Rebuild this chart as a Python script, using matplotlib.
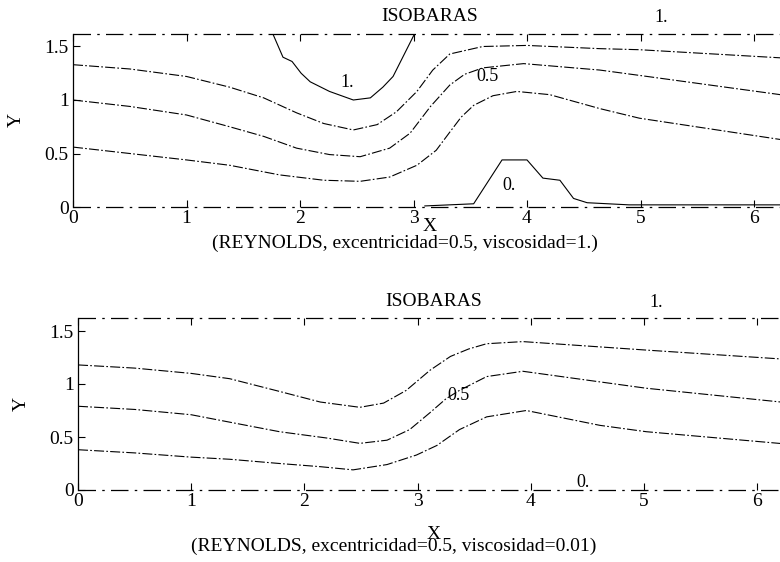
#!/usr/bin/env python3
"""Isobaras: two contour panels (Reynolds, excentricidad=0.5)."""
import matplotlib
matplotlib.use("Agg")
import matplotlib.pyplot as plt

# ---- panel 1: viscosidad = 1. ----
top_x = [0.0, 0.5, 1.0, 1.38, 1.68, 1.97, 2.21, 2.47, 2.68, 2.85, 3.03, 3.17, 3.32,
         3.61, 4.0, 4.64, 4.99, 6.30]
top_y = [1.33, 1.29, 1.22, 1.12, 1.02, 0.88, 0.78, 0.72, 0.77, 0.89, 1.08, 1.28, 1.43,
         1.50, 1.51, 1.48, 1.47, 1.39]
mid_x = [0.0, 0.5, 1.0, 1.38, 1.68, 1.97, 2.26, 2.53, 2.79, 2.97, 3.15, 3.32, 3.45,
         3.61, 3.97, 4.64, 4.99, 6.30]
mid_y = [1.00, 0.94, 0.86, 0.75, 0.66, 0.55, 0.49, 0.47, 0.55, 0.69, 0.94, 1.14, 1.24,
         1.30, 1.34, 1.28, 1.23, 1.04]
low_x = [0.0, 0.5, 1.0, 1.38, 1.82, 2.21, 2.53, 2.79, 3.03, 3.20, 3.32, 3.42, 3.53,
         3.70, 3.91, 4.20, 4.64, 4.99, 6.30]
low_y = [0.56, 0.50, 0.44, 0.39, 0.30, 0.25, 0.24, 0.28, 0.39, 0.53, 0.70, 0.84, 0.95,
         1.04, 1.08, 1.05, 0.92, 0.83, 0.62]
one_x = [1.76, 1.85, 1.93, 2.01, 2.09, 2.26, 2.47, 2.62, 2.73, 2.82, 3.01]
one_y = [1.62, 1.40, 1.36, 1.25, 1.17, 1.08, 1.00, 1.02, 1.12, 1.22, 1.62]
zero_x = [3.10, 3.53, 3.78, 4.00, 4.14, 4.29, 4.41, 4.53, 4.90, 6.30]
zero_y = [0.01, 0.03, 0.44, 0.44, 0.27, 0.25, 0.08, 0.04, 0.02, 0.02]

# ---- panel 2: viscosidad = 0.01 ----
top2_x = [0.0, 0.5, 1.0, 1.34, 1.78, 2.14, 2.49, 2.70, 2.90, 3.11, 3.29, 3.45, 3.61,
          3.93, 4.61, 5.02, 6.30]
top2_y = [1.18, 1.15, 1.10, 1.05, 0.93, 0.83, 0.78, 0.82, 0.94, 1.13, 1.26, 1.33, 1.38,
          1.40, 1.35, 1.32, 1.23]
mid2_x = [0.0, 0.5, 1.0, 1.34, 1.78, 2.20, 2.49, 2.73, 2.93, 3.11, 3.25, 3.37, 3.61,
          3.93, 4.61, 5.02, 6.30]
mid2_y = [0.79, 0.76, 0.71, 0.64, 0.55, 0.49, 0.44, 0.47, 0.57, 0.73, 0.86, 0.94, 1.07,
          1.12, 1.02, 0.96, 0.82]
low2_x = [0.0, 0.5, 1.0, 1.34, 1.78, 2.14, 2.43, 2.73, 2.99, 3.17, 3.37, 3.61, 3.96,
          4.61, 5.02, 6.30]
low2_y = [0.38, 0.35, 0.31, 0.29, 0.25, 0.22, 0.19, 0.24, 0.33, 0.42, 0.57, 0.69, 0.75,
          0.61, 0.55, 0.43]

YTOP = 1.62
XMAX = 6.2832
captions = ["(REYNOLDS, excentricidad=0.5, viscosidad=1.)",
            "(REYNOLDS, excentricidad=0.5, viscosidad=0.01)"]

plt.rcParams["font.family"] = ["Liberation Serif", "DejaVu Serif"]
plt.rcParams["font.size"] = 13

fig = plt.figure(figsize=(7.8, 5.62), dpi=100)
W, H = 780.0, 562.0

curve_ls = (0, (9, 2, 1.5, 2))
edge_ls = (0, (14, 5, 2, 5))


def panel(left_px, zero_px, ppx, ppy, xpad):
    ax = fig.add_axes([left_px / W, (H - zero_px) / H, XMAX * ppx / W, YTOP * ppy / H])
    ax.set_xlim(0, XMAX)
    ax.set_ylim(0, YTOP)
    for s in ("top", "right", "bottom"):
        ax.spines[s].set_visible(False)
    ax.spines["left"].set_linewidth(0.9)
    ax.set_xticks(range(7))
    ax.set_yticks([0, 0.5, 1, 1.5])
    ax.set_yticklabels(["0", "0.5", "1", "1.5"])
    ax.tick_params(direction="in", length=5, width=0.8, labelsize=14, top=True, pad=3)
    ax.tick_params(axis="x", pad=2)
    ax.axhline(0, color="black", lw=0.9, ls=edge_ls, clip_on=False)
    ax.axhline(YTOP, color="black", lw=0.9, ls=edge_ls, clip_on=False)
    ax.set_xlabel("X", fontsize=14, labelpad=xpad)
    ax.set_ylabel("Y", fontsize=14, labelpad=14)
    ax.set_title("ISOBARAS", fontsize=14, pad=9)
    return ax


ax1 = panel(73, 207, 113.5, 107, -6)
for xs, ys in [(top_x, top_y), (mid_x, mid_y), (low_x, low_y)]:
    ax1.plot(xs, ys, color="black", lw=0.8, ls=curve_ls)
ax1.plot(one_x, one_y, color="black", lw=0.8)
ax1.plot(zero_x, zero_y, color="black", lw=0.8)
ax1.text(2.36, 1.12, "1.", fontsize=13)
ax1.text(3.55, 1.18, "0.5", fontsize=13)
ax1.text(3.78, 0.16, "0.", fontsize=13)
ax1.text(5.12, YTOP + 0.11, "1.", fontsize=13)
fig.text(405 / W, 1 - 243 / H, captions[0], ha="center", va="center", fontsize=14)

ax2 = panel(78, 490, 113.2, 106, 12)
for xs, ys in [(top2_x, top2_y), (mid2_x, mid2_y), (low2_x, low2_y)]:
    ax2.plot(xs, ys, color="black", lw=0.8, ls=curve_ls)
ax2.text(3.26, 0.85, "0.5", fontsize=13)
ax2.text(4.40, 0.03, "0.", fontsize=13)
ax2.text(5.05, YTOP + 0.11, "1.", fontsize=13)
fig.text(394 / W, 1 - 546 / H, captions[1], ha="center", va="center", fontsize=14)

fig.savefig("out.png", dpi=100)
